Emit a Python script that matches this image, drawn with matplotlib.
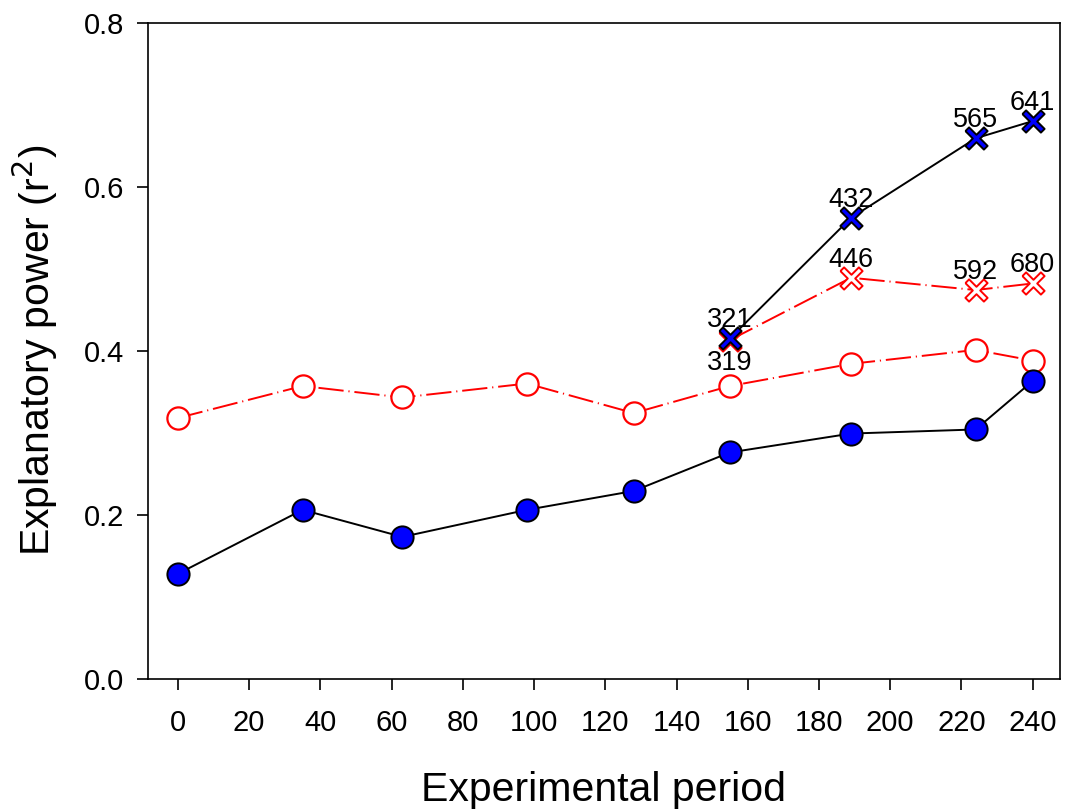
import numpy as np
import matplotlib.pyplot as plt

plt.rcParams['font.family'] = ['Liberation Sans', 'DejaVu Sans']

# sampling days
period = [0, 35, 63, 98, 128, 155, 189, 224, 240]
r2_filled = [0.128, 0.206, 0.173, 0.206, 0.229, 0.276, 0.299, 0.304, 0.363]
r2_open = [0.318, 0.357, 0.343, 0.360, 0.324, 0.357, 0.384, 0.401, 0.388]

# later subset with sample sizes
period_x = [155, 189, 224, 240]
r2_x_blue = [0.415, 0.562, 0.659, 0.680]
r2_x_red = [0.413, 0.489, 0.474, 0.482]
n_blue = ["321", "432", "565", "641"]
n_red = ["319", "446", "592", "680"]

# slim cross marker: a plus sign turned by 45 degrees
w = 0.2
plus = np.array([(-w, 1), (w, 1), (w, w), (1, w), (1, -w), (w, -w),
                 (w, -1), (-w, -1), (-w, -w), (-1, -w), (-1, w), (-w, w), (-w, 1)])
c = np.cos(np.pi / 4)
rot = np.array([[c, -c], [c, c]])
cross = plus @ rot.T

fig, ax = plt.subplots(figsize=(10.65, 8.1), dpi=100)
fig.subplots_adjust(left=0.139, right=0.995, top=0.972, bottom=0.162)

dash = (0, (13, 2.5, 0.6, 2.5))

ax.plot(period, r2_open, color='red', linestyle=dash, linewidth=1.4,
        marker='o', markersize=16, markerfacecolor='white',
        markeredgecolor='red', markeredgewidth=1.6, zorder=3)
ax.plot(period, r2_filled, color='black', linewidth=1.4,
        marker='o', markersize=16, markerfacecolor='blue',
        markeredgecolor='black', markeredgewidth=1.4, zorder=4)
ax.plot(period_x, r2_x_red, color='red', linestyle=dash, linewidth=1.4,
        marker=cross, markersize=16, markerfacecolor='white',
        markeredgecolor='red', markeredgewidth=1.4, zorder=3)
ax.plot(period_x, r2_x_blue, color='black', linewidth=1.4,
        marker=cross, markersize=16, markerfacecolor='blue',
        markeredgecolor='black', markeredgewidth=1.4, zorder=5)

# sample size labels
for i in range(len(period_x)):
    ax.annotate(n_blue[i], xy=(period_x[i], r2_x_blue[i]), xytext=(0, 8),
                textcoords='offset points', ha='center', va='baseline', fontsize=19.5)
    if i == 0:
        ax.annotate(n_red[i], xy=(period_x[i], r2_x_red[i]), xytext=(0, -7.5),
                    textcoords='offset points', ha='center', va='top', fontsize=19.5)
    else:
        ax.annotate(n_red[i], xy=(period_x[i], r2_x_red[i]), xytext=(0, 8),
                    textcoords='offset points', ha='center', va='baseline', fontsize=19.5)

ax.set_xlim(-8.4, 247.6)
ax.set_ylim(0, 0.8)
ax.set_xticks(range(0, 241, 20))
ax.set_yticks([0.0, 0.2, 0.4, 0.6, 0.8])
ax.set_yticklabels(["0.0", "0.2", "0.4", "0.6", "0.8"])
ax.tick_params(direction='out', length=8, width=1.2, labelsize=21)
ax.tick_params(axis='x', pad=14)
ax.tick_params(axis='y', pad=9)

for s in ax.spines.values():
    s.set_linewidth(1.2)

ax.set_xlabel("Experimental period", fontsize=29.5, labelpad=24)
ax.set_ylabel("Explanatory power (r$^2$)", fontsize=29.5, labelpad=17)

plt.savefig("out.png")
